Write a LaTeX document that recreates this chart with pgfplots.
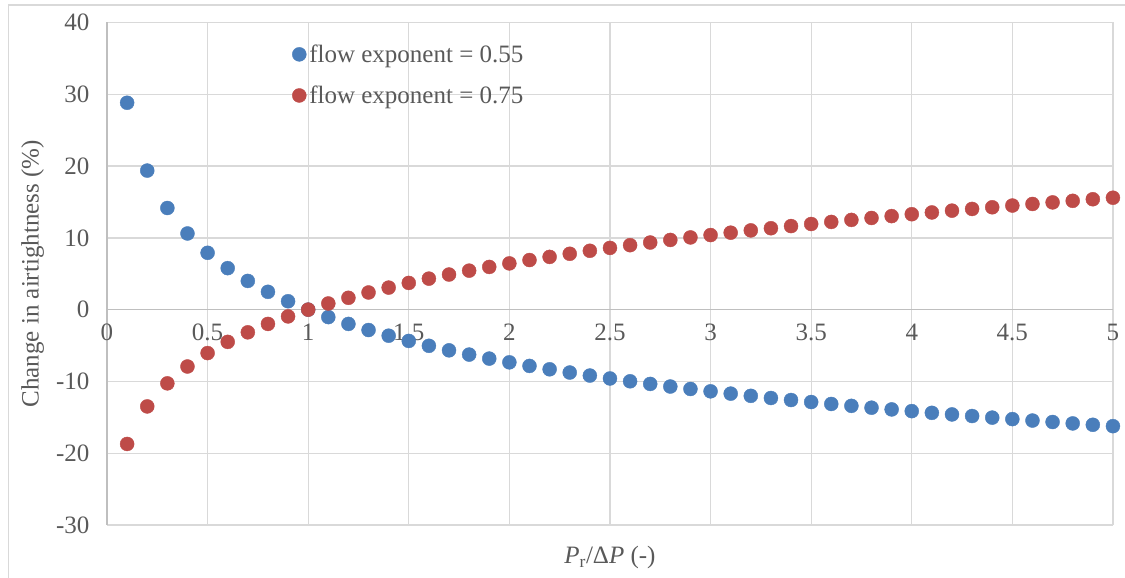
\documentclass[border=0pt]{standalone}
\usepackage{fontspec}
\setmainfont{Liberation Serif}
\usepackage{pgfplots}
\pgfplotsset{compat=1.18}
\definecolor{xblue}{HTML}{4A7EBB}
\definecolor{xred}{HTML}{BE4B48}
\definecolor{gridc}{HTML}{D9D9D9}
\definecolor{axc}{HTML}{BFBFBF}
\definecolor{txt}{HTML}{595959}
\begin{document}
\begin{tikzpicture}[x=1pt,y=1pt]
\begin{axis}[
  at={(107pt,53pt)}, anchor=south west,
  scale only axis, width=1006pt, height=502.5pt,
  xmin=0, xmax=5, ymin=-30, ymax=40,
  axis x line*=middle, axis y line*=left,
  hide obscured x ticks=false, hide obscured y ticks=false,
  xtick={0,0.5,1,1.5,2,2.5,3,3.5,4,4.5,5},
  xticklabels={0,0.5,1,1.5,2,2.5,3,3.5,4,4.5,5},
  ytick={-30,-20,-10,0,10,20,30,40},
  yticklabels={-30,-20,-10,0,10,20,30,40},
  major tick length=0pt,
  grid=major,
  grid style={draw=gridc, line width=1.3pt},
  axis line style={draw=axc, line width=1.3pt},
  tick label style={font=\fontsize{25}{29}\selectfont, text=txt},
  xticklabel style={yshift=-11pt},
  yticklabel style={xshift=-14pt},
  xlabel={\textit{P}\textsubscript{r}/Δ\textit{P} (-)},
  ylabel={Change in airtightness (\%)},
  label style={font=\fontsize{25}{29}\selectfont, text=txt},
  xlabel style={at={(axis description cs:0.5,-0.065)}, anchor=center},
  ylabel style={at={(axis description cs:-0.074,0.5)}, anchor=center},
  legend style={at={(axis description cs:0.184,0.958)}, anchor=north west,
    draw=none, fill=none, font=\fontsize{25}{29}\selectfont, text=txt,
    row sep=20pt, column sep=2pt, inner sep=0pt,
    nodes={inner sep=1pt}},
  legend cell align=left,
  legend image code/.code={\draw[#1] plot coordinates {(0pt,0pt)};},
]
\addplot[only marks, mark=*, mark size=7pt, draw=xblue, fill=xblue] coordinates {
(0.1,28.82)(0.2,19.37)(0.3,14.16)(0.4,10.61)(0.5,7.92)(0.6,5.78)(0.7,4.00)(0.8,2.48)(0.9,1.17)(1.0,0)
(1.1,-1.04)(1.2,-1.99)(1.3,-2.84)(1.4,-3.63)(1.5,-4.36)(1.6,-5.04)(1.7,-5.67)(1.8,-6.26)(1.9,-6.82)(2.0,-7.34)
(2.1,-7.84)(2.2,-8.31)(2.3,-8.76)(2.4,-9.18)(2.5,-9.59)(2.6,-9.98)(2.7,-10.35)(2.8,-10.71)(2.9,-11.05)(3.0,-11.38)
(3.1,-11.70)(3.2,-12.01)(3.3,-12.31)(3.4,-12.59)(3.5,-12.87)(3.6,-13.14)(3.7,-13.40)(3.8,-13.66)(3.9,-13.90)(4.0,-14.14)
(4.1,-14.38)(4.2,-14.60)(4.3,-14.82)(4.4,-15.04)(4.5,-15.25)(4.6,-15.45)(4.7,-15.65)(4.8,-15.85)(4.9,-16.04)(5.0,-16.23)
};
\addlegendentry{flow exponent = 0.55}
\addplot[only marks, mark=*, mark size=7pt, draw=xred, fill=xred] coordinates {
(0.1,-18.71)(0.2,-13.48)(0.3,-10.27)(0.4,-7.92)(0.5,-6.05)(0.6,-4.49)(0.7,-3.16)(0.8,-1.99)(0.9,-0.94)(1.0,0)
(1.1,0.86)(1.2,1.65)(1.3,2.39)(1.4,3.07)(1.5,3.72)(1.6,4.32)(1.7,4.89)(1.8,5.43)(1.9,5.95)(2.0,6.44)
(2.1,6.91)(2.2,7.35)(2.3,7.78)(2.4,8.20)(2.5,8.60)(2.6,8.98)(2.7,9.35)(2.8,9.71)(2.9,10.06)(3.0,10.39)
(3.1,10.72)(3.2,11.04)(3.3,11.34)(3.4,11.64)(3.5,11.93)(3.6,12.22)(3.7,12.50)(3.8,12.77)(3.9,13.03)(4.0,13.29)
(4.1,13.54)(4.2,13.79)(4.3,14.03)(4.4,14.26)(4.5,14.50)(4.6,14.72)(4.7,14.94)(4.8,15.16)(4.9,15.38)(5.0,15.59)
};
\addlegendentry{flow exponent = 0.75}
\end{axis}
\draw[gridc, line width=1.3pt] (8.5pt,0pt) -- (8.5pt,573pt) -- (1125pt,573pt);
\pgfresetboundingbox
\path[use as bounding box] (0pt,0pt) rectangle (1125pt,578pt);
\end{tikzpicture}
\end{document}
